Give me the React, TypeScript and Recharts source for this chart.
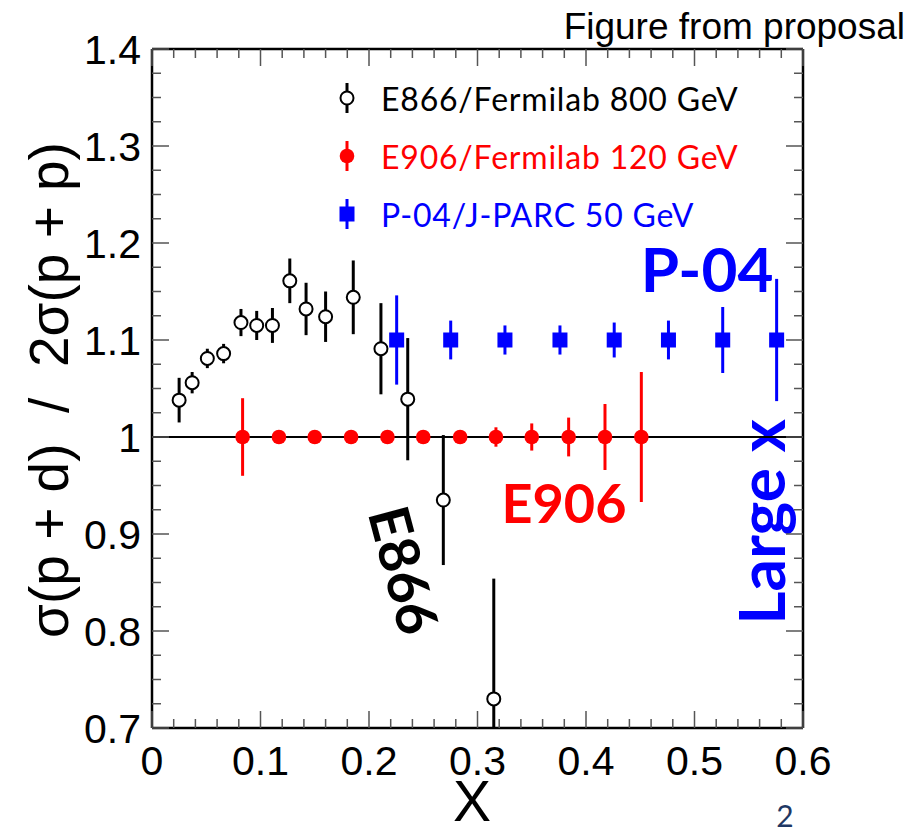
import React from 'react';
import {
  ScatterChart,
  Scatter,
  XAxis,
  YAxis,
  ErrorBar,
  ReferenceLine,
  Legend,
  Customized,
} from 'recharts';

// E866/Fermilab 800 GeV (open circles)
const e866X = [0.025, 0.037, 0.051, 0.066, 0.082, 0.0965, 0.111, 0.127, 0.142, 0.16, 0.1855, 0.211, 0.2357, 0.2685, 0.315];
const e866Y = [1.038, 1.056, 1.081, 1.086, 1.118, 1.115, 1.115, 1.161, 1.132, 1.124, 1.144, 1.091, 1.039, 0.935, 0.73];
// [down, up]; the last bar runs off the bottom of the frame, so it stops at 0.7
const e866Err = [
  [0.023, 0.023], [0.011, 0.011], [0.01, 0.01], [0.01, 0.01], [0.014, 0.014],
  [0.015, 0.015], [0.018, 0.018], [0.023, 0.023], [0.027, 0.027], [0.026, 0.026],
  [0.038, 0.038], [0.047, 0.047], [0.063, 0.063], [0.067, 0.067], [0.03, 0.124],
];

// E906/Fermilab 120 GeV (red dots)
const e906X = [0.0835, 0.117, 0.15, 0.1835, 0.217, 0.25, 0.284, 0.317, 0.35, 0.384, 0.4175, 0.451];
const e906Y = [1, 1, 1, 1, 1, 1, 1, 1, 1, 1, 1, 1];
const e906Err = [0.04, 0.004, 0.004, 0.004, 0.005, 0.005, 0.006, 0.01, 0.014, 0.02, 0.034, 0.067];

// P-04/J-PARC 50 GeV (blue squares)
const p04X = [0.2255, 0.2753, 0.3253, 0.376, 0.426, 0.476, 0.526, 0.5757];
const p04Y = [1.1, 1.1, 1.1, 1.1, 1.1, 1.1, 1.1, 1.1];
const p04Err = [0.046, 0.02, 0.015, 0.015, 0.018, 0.02, 0.034, 0.063];

const xTickLabels = [0, 0.1, 0.2, 0.3, 0.4, 0.5, 0.6];
const yTickLabels = [0.7, 0.8, 0.9, 1, 1.1, 1.2, 1.3, 1.4];

const legendLabels = ['E866/Fermilab 800 GeV', 'E906/Fermilab 120 GeV', 'P-04/J-PARC 50 GeV'];

const toRows = (xs: number[], ys: number[], errs: any[]) =>
  xs.map((x, i) => ({ x, y: ys[i], err: errs[i] }));

const e866 = toRows(e866X, e866Y, e866Err);
const e906 = toRows(e906X, e906Y, e906Err);
const p04 = toRows(p04X, p04Y, p04Err);

// minor ticks: 5 per 0.1 on x, 4 per 0.1 on y
const xTicks = Array.from({ length: 31 }, (_, i) => +(i * 0.02).toFixed(3));
const yTicks = Array.from({ length: 29 }, (_, i) => +(0.7 + i * 0.025).toFixed(3));

const W = 910;
const H = 834;
const PL = 152;
const PR = 803;
const PT = 49;
const PB = 728;

const SANS = '"Liberation Sans", Arial, sans-serif';
const CAL = 'Lato, "Open Sans", sans-serif';

const isMajor = (v: number) => Math.abs(v * 10 - Math.round(v * 10)) < 1e-6;
const fmt = (v: number) => String(Math.round(v * 10) / 10);
const inList = (v: number, list: number[]) => list.some((t) => Math.abs(t - v) < 1e-6);

const TICK_COLOR = '#555';

const BottomTick = (props: any) => {
  const cx = props.payload.coordinate;
  const v = props.payload.value;
  const major = isMajor(v);
  return (
    <g>
      <line x1={cx} x2={cx} y1={PB} y2={PB - (major ? 17 : 9)} stroke={TICK_COLOR} strokeWidth={1.5} />
      {major && inList(v, xTickLabels) && (
        <text x={cx} y={PB + 47} textAnchor="middle" fontFamily={SANS} fontSize={41} fill="#000">
          {fmt(v)}
        </text>
      )}
    </g>
  );
};

const TopTick = (props: any) => {
  const cx = props.payload.coordinate;
  const major = isMajor(props.payload.value);
  return <line x1={cx} x2={cx} y1={PT} y2={PT + (major ? 17 : 9)} stroke={TICK_COLOR} strokeWidth={1.5} />;
};

const LeftTick = (props: any) => {
  const cy = props.payload.coordinate;
  const v = props.payload.value;
  const major = isMajor(v);
  return (
    <g>
      <line x1={PL} x2={PL + (major ? 17 : 9)} y1={cy} y2={cy} stroke={TICK_COLOR} strokeWidth={1.5} />
      {major && inList(v, yTickLabels) && (
        <text x={PL - 11} y={cy + 15} textAnchor="end" fontFamily={SANS} fontSize={41} fill="#000">
          {fmt(v)}
        </text>
      )}
    </g>
  );
};

const RightTick = (props: any) => {
  const cy = props.payload.coordinate;
  const major = isMajor(props.payload.value);
  return <line x1={PR} x2={PR - (major ? 17 : 9)} y1={cy} y2={cy} stroke={TICK_COLOR} strokeWidth={1.5} />;
};

const OpenCircle = (props: any) => (
  <circle cx={props.cx} cy={props.cy} r={6.5} fill="#fff" stroke="#000" strokeWidth={2} />
);
const RedDot = (props: any) => <circle cx={props.cx} cy={props.cy} r={7.3} fill="#ff0000" />;
const BlueSquare = (props: any) => (
  <rect x={props.cx - 7.5} y={props.cy - 7.5} width={15} height={15} fill="#0000ff" />
);

const legendColors = ['#000', '#ff0000', '#0000ff'];

const LegendIcon = ({ kind }: { kind: number }) => (
  <svg width={30} height={40} style={{ display: 'block', flex: 'none' }}>
    <line x1={15} x2={15} y1={5} y2={35} stroke={legendColors[kind]} strokeWidth={3} />
    {kind === 0 && <circle cx={15} cy={20} r={6.5} fill="#fff" stroke="#000" strokeWidth={2} />}
    {kind === 1 && <circle cx={15} cy={20} r={7.3} fill="#ff0000" />}
    {kind === 2 && <rect x={7.5} y={12.5} width={15} height={15} fill="#0000ff" />}
  </svg>
);

const renderLegend = () => (
  <div style={{ fontFamily: CAL, fontSize: 32, letterSpacing: 0.8 }}>
    {legendLabels.map((label, i) => (
      <div key={label} style={{ display: 'flex', alignItems: 'center', height: 58 }}>
        <LegendIcon kind={i} />
        <span style={{ marginLeft: 19, color: legendColors[i], whiteSpace: 'nowrap' }}>{label}</span>
      </div>
    ))}
  </div>
);

const Annotations = () => (
  <g>
    <text x={905} y={39} textAnchor="end" fontFamily={SANS} fontSize={37} fill="#000">
      Figure from proposal
    </text>
    <text
      transform="translate(49, 390) rotate(-90)"
      textAnchor="middle"
      dominantBaseline="central"
      fontFamily={SANS}
      fontSize={55}
      fill="#000"
      style={{ whiteSpace: 'pre' }}
    >
      {'σ(p + d)  /  2σ(p + p)'}
    </text>
    <text x={472} y={821} textAnchor="middle" fontFamily={SANS} fontSize={57} fill="#000">
      X
    </text>
    <text x={785} y={827} textAnchor="middle" fontFamily={CAL} fontSize={30} fill="#1f3864">
      2
    </text>
    <text x={707} y={292} textAnchor="middle" fontFamily={CAL} fontWeight="bold" fontSize={62} fill="#0000ff">
      P-04
    </text>
    <text x={564} y={523} textAnchor="middle" fontFamily={CAL} fontWeight="bold" fontSize={54} fill="#ff0000">
      E906
    </text>
    <text
      transform="translate(785, 522) rotate(-90)"
      textAnchor="middle"
      fontFamily={CAL}
      fontWeight="bold"
      fontSize={64}
      fill="#0000ff"
    >
      Large x
    </text>
    <text
      transform="translate(405, 570) rotate(75)"
      textAnchor="middle"
      dominantBaseline="central"
      fontFamily={CAL}
      fontWeight="bold"
      fontSize={56}
      fill="#000"
    >
      E866
    </text>
  </g>
);

export default function App() {
  return (
    <div style={{ position: 'absolute', left: 0, top: 0, width: W, height: H, background: '#fff' }}>
      <ScatterChart
        width={W}
        height={H}
        margin={{ top: PT - 10, right: W - PR - 10, bottom: H - PB - 60, left: PL - 60 }}
      >
        <XAxis
          xAxisId="b"
          type="number"
          dataKey="x"
          domain={[0, 0.6]}
          ticks={xTicks}
          interval={0}
          allowDataOverflow
          height={60}
          axisLine={{ stroke: '#000', strokeWidth: 2.5 }}
          tickLine={false}
          tick={<BottomTick />}
        />
        <XAxis
          xAxisId="t"
          orientation="top"
          type="number"
          dataKey="x"
          domain={[0, 0.6]}
          ticks={xTicks}
          interval={0}
          allowDataOverflow
          height={10}
          axisLine={{ stroke: '#000', strokeWidth: 2.5 }}
          tickLine={false}
          tick={<TopTick />}
        />
        <YAxis
          yAxisId="l"
          type="number"
          dataKey="y"
          domain={[0.7, 1.4]}
          ticks={yTicks}
          interval={0}
          allowDataOverflow
          width={60}
          axisLine={{ stroke: '#000', strokeWidth: 2.5 }}
          tickLine={false}
          tick={<LeftTick />}
        />
        <YAxis
          yAxisId="r"
          orientation="right"
          type="number"
          dataKey="y"
          domain={[0.7, 1.4]}
          ticks={yTicks}
          interval={0}
          allowDataOverflow
          width={10}
          axisLine={{ stroke: '#000', strokeWidth: 2.5 }}
          tickLine={false}
          tick={<RightTick />}
        />
        <ReferenceLine xAxisId="b" yAxisId="l" y={1} stroke="#000" strokeWidth={2} />
        <Scatter name={legendLabels[1]} xAxisId="b" yAxisId="l" data={e906} shape={<RedDot />} isAnimationActive={false}>
          <ErrorBar dataKey="err" direction="y" width={0} stroke="#ff0000" strokeWidth={3} />
        </Scatter>
        <Scatter name={legendLabels[2]} xAxisId="b" yAxisId="l" data={p04} shape={<BlueSquare />} isAnimationActive={false}>
          <ErrorBar dataKey="err" direction="y" width={0} stroke="#0000ff" strokeWidth={3} />
        </Scatter>
        <Scatter name={legendLabels[0]} xAxisId="b" yAxisId="l" data={e866} shape={<OpenCircle />} isAnimationActive={false}>
          <ErrorBar dataKey="err" direction="y" width={0} stroke="#000" strokeWidth={3} />
        </Scatter>
        <Legend
          layout="vertical"
          align="center"
          verticalAlign="middle"
          content={renderLegend}
          wrapperStyle={{ position: 'absolute', left: 332, top: 69, width: 470, height: 180 }}
        />
        <Customized component={Annotations} />
      </ScatterChart>
    </div>
  );
}
